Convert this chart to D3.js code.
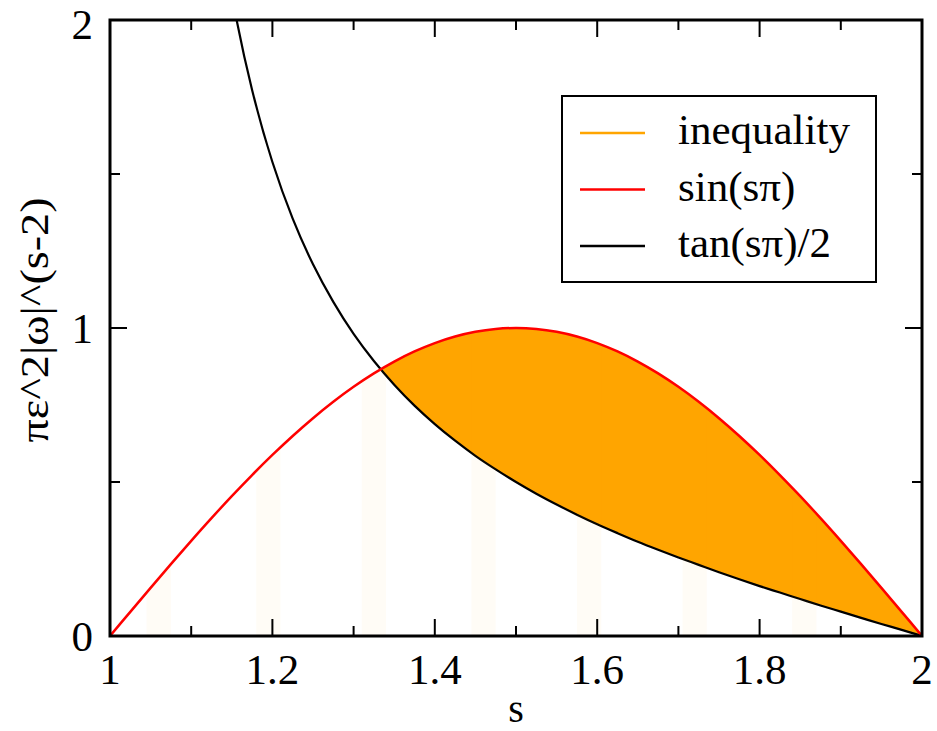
<!DOCTYPE html>
<html>
<head>
<meta charset="utf-8">
<script src="https://cdn.jsdelivr.net/npm/d3@7"></script>
<style>
  body { margin: 0; background: #fff; }
</style>
</head>
<body>
<div id="chart"></div>
<script>
// values, s from 1 to 2
const sValues = [1, 1.025, 1.05, 1.075, 1.1, 1.125, 1.15, 1.175, 1.2, 1.225, 1.25, 1.275, 1.3, 1.325, 1.35, 1.375,
    1.4, 1.425, 1.45, 1.475, 1.5, 1.525, 1.55, 1.575, 1.6, 1.625, 1.65, 1.675, 1.7, 1.725, 1.75, 1.775,
    1.8, 1.825, 1.85, 1.875, 1.9, 1.925, 1.95, 1.975, 2];
const sinValues = [0, 0.0785, 0.1564, 0.2334, 0.309, 0.3827, 0.454, 0.5225, 0.5878, 0.6494, 0.7071, 0.7604, 0.809,
    0.8526, 0.891, 0.9239, 0.9511, 0.9724, 0.9877, 0.9969, 1, 0.9969, 0.9877, 0.9724, 0.9511, 0.9239, 0.891,
    0.8526, 0.809, 0.7604, 0.7071, 0.6494, 0.5878, 0.5225, 0.454, 0.3827, 0.309, 0.2334, 0.1564, 0.0785, 0];
// tan curve goes off the top before s = 1.15
const tanS = sValues.slice(4);
const tanValues = [3.157, 2.514, 2.082, 1.773, 1.539, 1.355, 1.207, 1.085, 0.981, 0.893, 0.816, 0.748, 0.688, 0.634,
    0.585, 0.541, 0.5, 0.462, 0.427, 0.394, 0.363, 0.334, 0.306, 0.28, 0.255, 0.231, 0.207, 0.184, 0.162, 0.141,
    0.12, 0.099, 0.079, 0.059, 0.039, 0.02, 0];
// the shaded "inequality" region, from the crossing point to s = 2
const ineqS = [1.3333].concat(sValues.slice(14));
const ineqLow = [0.866].concat(tanValues.slice(10));
const ineqHigh = [0.866].concat(sinValues.slice(14));
// faint stripes left under the sine curve
const stripeBands = [[1.045, 1.075], [1.18, 1.21], [1.31, 1.34], [1.445, 1.475], [1.575, 1.605], [1.705, 1.735], [1.84, 1.87]];

const xTicks = [1, 1.2, 1.4, 1.6, 1.8, 2];
const xMinor = [1.1, 1.3, 1.5, 1.7, 1.9];
const yTicks = [0, 1, 2];
const yMinor = [0.5, 1.5];
const legendItems = [
    { label: 'inequality', color: '#ffa500' },
    { label: 'sin(s\u03c0)', color: '#ff0000' },
    { label: 'tan(s\u03c0)/2', color: '#000000' }
];

const serif = "'Liberation Serif', 'Times New Roman', Times, Tinos, 'Nimbus Roman', 'Noto Serif', 'DejaVu Serif', serif";

const config = {
    width: 937,
    height: 731,
    padding: { left: 110, top: 20, right: 15, bottom: 95 }
};

const svg = d3.select('#chart')
    .append('svg')
    .attr('width', config.width)
    .attr('height', config.height)
    .style('font-family', serif);

const x = d3.scaleLinear()
    .domain([1, 2])
    .range([config.padding.left, config.width - config.padding.right]);
const y = d3.scaleLinear()
    .domain([0, 2])
    .range([config.height - config.padding.bottom, config.padding.top]);

svg.append('clipPath')
    .attr('id', 'plot-clip')
    .append('rect')
    .attr('x', x(1)).attr('y', y(2))
    .attr('width', x(2) - x(1)).attr('height', y(0) - y(2));

svg.append('clipPath')
    .attr('id', 'sin-clip')
    .append('path')
    .attr('d', d3.area()
        .x((d, i) => x(sValues[i]))
        .y0(y(0))
        .y1(d => y(d))
        .curve(d3.curveCatmullRom)(sinValues));

let plot = svg.append('g').attr('clip-path', 'url(#plot-clip)');

// faint stripes
svg.append('g')
    .attr('clip-path', 'url(#sin-clip)')
    .selectAll('rect')
    .data(stripeBands)
    .enter()
    .append('rect')
    .attr('x', d => x(d[0]))
    .attr('width', d => x(d[1]) - x(d[0]))
    .attr('y', y(1))
    .attr('height', y(0) - y(1))
    .style('fill', '#ffa500')
    .style('opacity', 0.035);

// orange filled region
plot.append('path')
    .attr('d', d3.area()
        .x((d, i) => x(ineqS[i]))
        .y0((d, i) => y(ineqLow[i]))
        .y1((d, i) => y(ineqHigh[i]))
        .curve(d3.curveCatmullRom)(ineqS))
    .style('fill', '#ffa500')
    .style('stroke', 'none');

plot.append('path')
    .attr('d', d3.line()
        .x((d, i) => x(tanS[i]))
        .y(d => y(d))
        .curve(d3.curveCatmullRom)(tanValues))
    .style('fill', 'none')
    .style('stroke', '#000')
    .style('stroke-width', 2.2);

plot.append('path')
    .attr('d', d3.line()
        .x((d, i) => x(sValues[i]))
        .y(d => y(d))
        .curve(d3.curveCatmullRom)(sinValues))
    .style('fill', 'none')
    .style('stroke', '#ff0000')
    .style('stroke-width', 2.5);

// axes, ticks drawn inward on all four sides
const tickLen = 17, minorLen = 10;
let axes = svg.append('g').style('stroke', '#000').style('stroke-width', 2);

xTicks.concat(xMinor).forEach(t => {
    let len = xTicks.includes(t) ? tickLen : minorLen;
    axes.append('line').attr('x1', x(t)).attr('x2', x(t)).attr('y1', y(0)).attr('y2', y(0) - len);
    axes.append('line').attr('x1', x(t)).attr('x2', x(t)).attr('y1', y(2)).attr('y2', y(2) + len);
});
yTicks.concat(yMinor).forEach(t => {
    let len = yTicks.includes(t) ? tickLen : minorLen;
    axes.append('line').attr('x1', x(1)).attr('x2', x(1) + len).attr('y1', y(t)).attr('y2', y(t));
    axes.append('line').attr('x1', x(2)).attr('x2', x(2) - len).attr('y1', y(t)).attr('y2', y(t));
});

svg.append('rect')
    .attr('x', x(1)).attr('y', y(2))
    .attr('width', x(2) - x(1)).attr('height', y(0) - y(2))
    .style('fill', 'none')
    .style('stroke', '#000')
    .style('stroke-width', 3);

svg.selectAll('.xlabel')
    .data(xTicks)
    .enter()
    .append('text')
    .attr('class', 'xlabel')
    .attr('x', d => x(d))
    .attr('y', y(0) + 48)
    .attr('text-anchor', 'middle')
    .style('font-family', serif)
    .style('font-size', '43px')
    .text(d => d);

svg.selectAll('.ylabel')
    .data(yTicks)
    .enter()
    .append('text')
    .attr('class', 'ylabel')
    .attr('x', x(1) - 17)
    .attr('y', d => Math.max(y(d) + 15, 39))
    .attr('text-anchor', 'end')
    .style('font-family', serif)
    .style('font-size', '43px')
    .text(d => d);

svg.append('text')
    .attr('x', x(1.5))
    .attr('y', 722)
    .attr('text-anchor', 'middle')
    .style('font-family', serif)
    .style('font-size', '40px')
    .text('s');

svg.append('text')
    .attr('transform', `translate(48, 320) rotate(-90)`)
    .attr('text-anchor', 'middle')
    .attr('textLength', 245)
    .attr('lengthAdjust', 'spacingAndGlyphs')
    .style('font-family', serif)
    .style('font-size', '40px')
    .text('\u03c0\u03b5^2|\u03c9|^(s-2)');

// legend
let legend = svg.append('g');
legend.append('rect')
    .attr('x', 562).attr('y', 96)
    .attr('width', 314).attr('height', 186)
    .style('fill', '#fff')
    .style('stroke', '#000')
    .style('stroke-width', 2);

let entries = legend.selectAll('.entry')
    .data(legendItems)
    .enter()
    .append('g')
    .attr('class', 'entry')
    .attr('transform', (d, i) => `translate(0, ${133 + i * 56.5})`);
entries.append('line')
    .attr('x1', 580).attr('x2', 645)
    .style('stroke', d => d.color)
    .style('stroke-width', 2.5);
entries.append('text')
    .attr('x', 678)
    .attr('y', 11)
    .style('font-family', serif)
    .style('font-size', '43px')
    .text(d => d.label);
</script>
</body>
</html>
